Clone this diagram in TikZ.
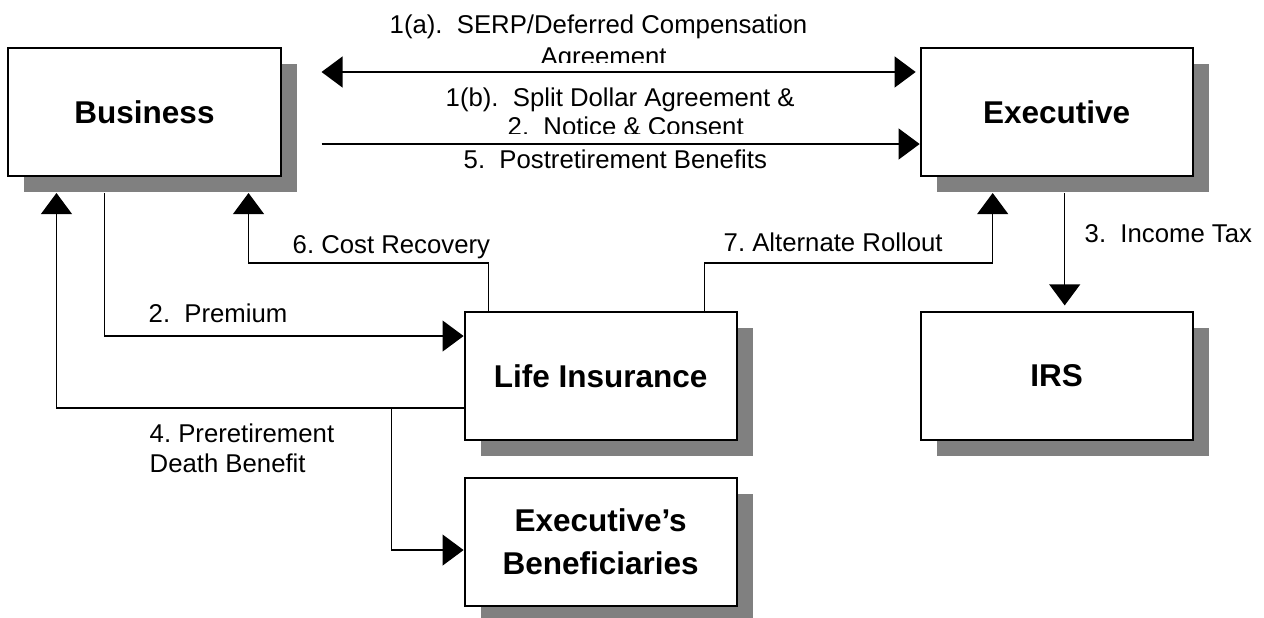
\documentclass[tikz,border=0pt]{standalone}
\usepackage{fontspec}
\setmainfont{Liberation Sans}
\usetikzlibrary{arrows.meta,positioning,shadows}

\begin{document}
\begin{tikzpicture}[x=0.025cm,y=-0.025cm,>={Triangle[length=15pt,width=22pt]},line width=1pt,
    box/.style={draw,line width=1.4pt,fill=white,minimum width=6.8cm,minimum height=3.2cm,
      align=center,font=\bfseries\fontsize{22.4}{30.6}\selectfont,
      drop shadow={shadow xshift=0.4cm,shadow yshift=-0.4cm,fill=black!50,opacity=1}},
    lbl/.style={anchor=base west,inner sep=0pt,font=\fontsize{18.3}{22}\selectfont}]
  \useasboundingbox (0,0) rectangle (1264,618);
  \node[box] (biz) at (144.5,112) {Business};
  \node[box] (exe) [right=15.95cm of biz] {Executive};
  \node[box] (irs) [below=3.35cm of exe] {IRS};
  \node[box] (life) [left=4.55cm of irs] {Life Insurance};
  \node[box] (bene) [below=0.9cm of life] {Executive’s\\Beneficiaries};

  \path[->]
    ([xshift=1cm,yshift=1cm]biz.east)
      edge [<->,line width=1.2pt] ([xshift=-0.1cm,yshift=1cm]exe.west)
    ([xshift=1cm,yshift=-0.8cm]biz.east)
      edge ([yshift=-0.8cm]exe.west)
    ([xshift=0.2cm,yshift=-0.4cm]exe.south)
      edge [shorten >=4pt] ([xshift=0.2cm]irs.north)
  ;
  \draw[->] ([xshift=-1cm,yshift=-0.4cm]biz.south) |- ([yshift=1cm]life.west);
  \draw[->] ([xshift=-2.8cm]life.north) -- ++(0pt,1.2cm) -| ([xshift=2.6cm,yshift=-0.4cm]biz.south);
  \draw[->] ([xshift=2.6cm]life.north) -- ++(0pt,1.2cm) -| ([xshift=-1.6cm,yshift=-0.4cm]exe.south);
  \draw[->] ([yshift=-0.8cm]life.west) -| ([xshift=-2.2cm,yshift=-0.4cm]biz.south);
  \draw[->] ([xshift=-1.8cm,yshift=-0.8cm]life.west) |- ([yshift=-0.2cm]bene.west);

  % labels
  \node[lbl] (l1a) at (389,33) {1(a).\ \ SERP/Deferred Compensation};
  \begin{scope}
    \clip (300,40) rectangle (900,62.5);
    \node[lbl] (l1a2) at (540,65.5) {Agreement};
  \end{scope}
  \node[lbl] (l1b) at (445,106) {1(b).\ \ Split Dollar Agreement \&};
  \begin{scope}
    \clip (300,110) rectangle (900,133);
    \node[lbl] (l2n) at (507,135.5) {2.\ \ Notice \& Consent};
  \end{scope}
  \node[lbl] (l5) at (463,168) {5.\ \ Postretirement Benefits};
  \node[lbl] (l6) at (292,253) {6.\ Cost Recovery};
  \node[lbl] (l7) at (723,251) {7.\ Alternate Rollout};
  \node[lbl] (l3) at (1084,242) {3.\ \ Income Tax};
  \node[lbl] (l2p) at (148,322) {2.\ \ Premium};
  \node[lbl] (l4a) at (149,442) {4.\ Preretirement};
  \node[lbl] (l4b) at (149,472) {Death Benefit};
\end{tikzpicture}
\end{document}
